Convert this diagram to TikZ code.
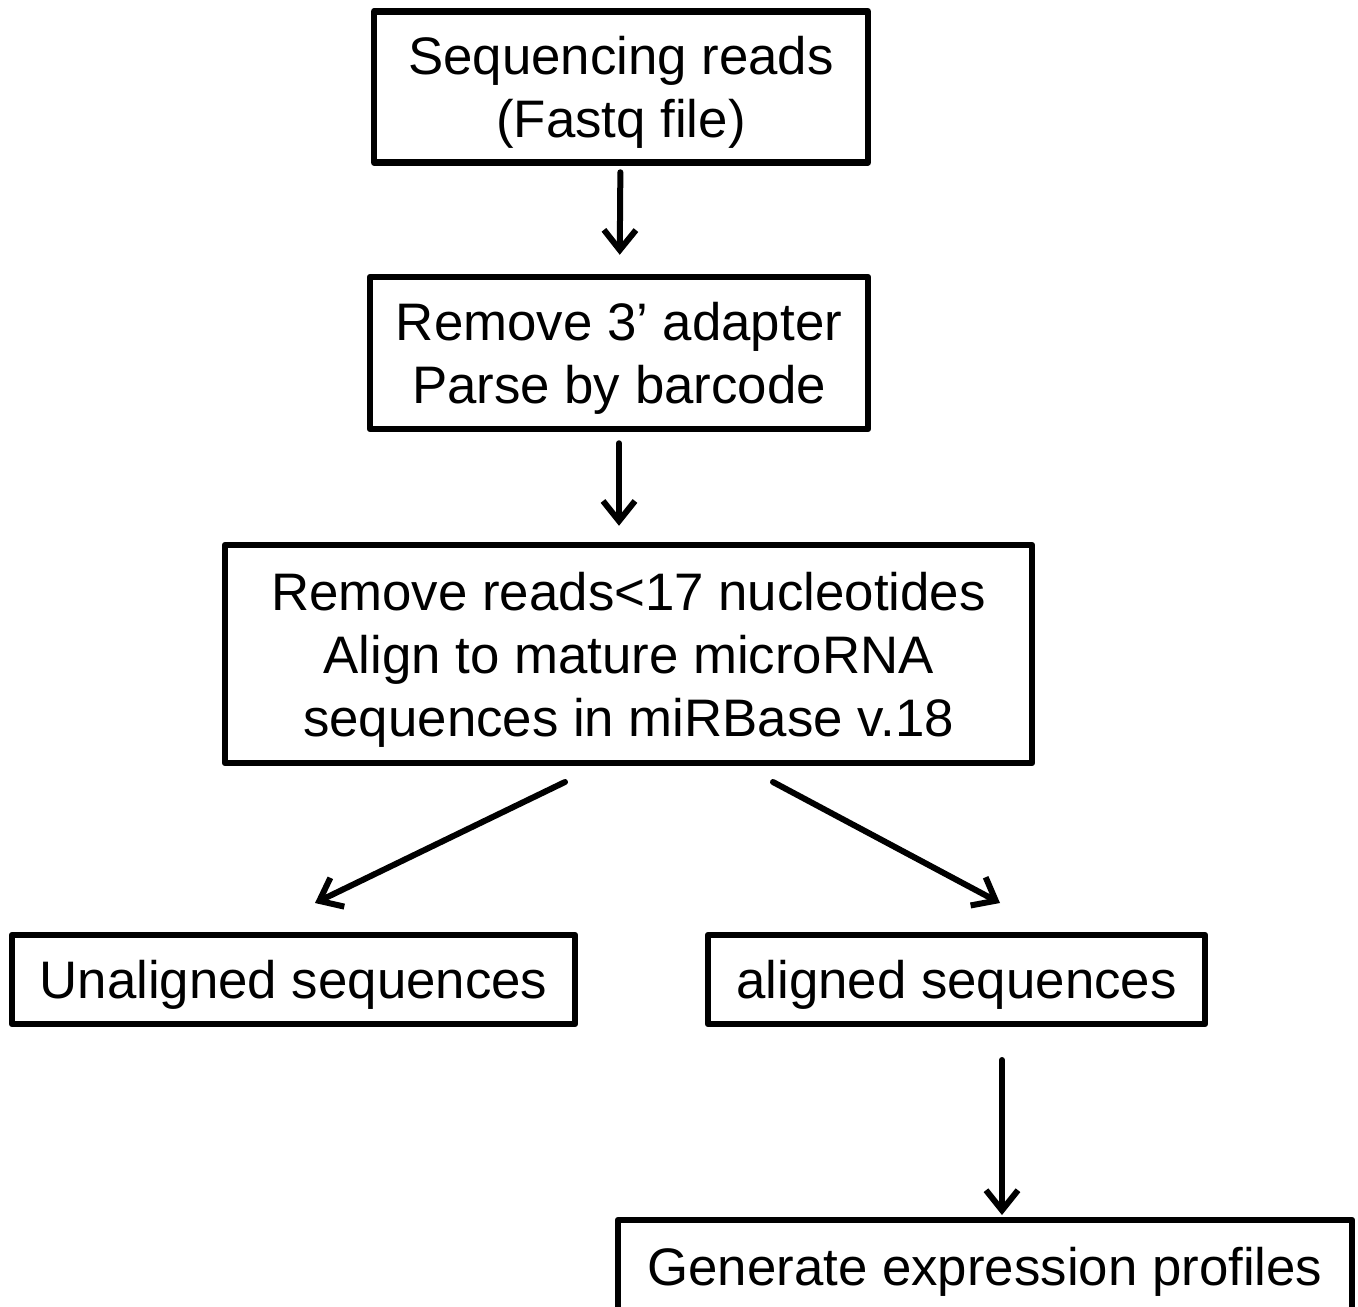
\documentclass[tikz,border=0pt]{standalone}
\usepackage{fontspec}
\setmainfont{Liberation Sans}
\usetikzlibrary{arrows.meta}
\newcommand{\tstrut}{\rule{0pt}{0.93em}}
\begin{document}
\begin{tikzpicture}[x=1pt,y=-1pt,
  box/.style={draw, line width=6.5pt, line join=round, inner sep=0pt, align=center,
    font=\fontsize{52.8}{63}\selectfont},
  arr/.style={line width=6pt, line cap=round, -{Straight Barb[length=20pt,width=32pt]}}]
\useasboundingbox (0,0) rectangle (1358,1307);
\clip (0,0) rectangle (1358,1307);
\fill[white] (0,0) rectangle (1358,1307);
\node[box, minimum width=494pt, minimum height=151pt] (b1) at (621,87) {\tstrut Sequencing reads\\(Fastq file)};
\node[box, minimum width=498pt, minimum height=152pt] (b2) at (619,353) {\tstrut Remove 3’ adapter\\Parse by barcode};
\node[box, minimum width=807pt, minimum height=218pt] (b3) at (628.5,654) {\tstrut Remove reads<17 nucleotides\\Align to mature microRNA\\sequences in miRBase v.18};
\node[box, minimum width=563pt, minimum height=89pt] (un) at (293.5,979.5) {\tstrut Unaligned sequences};
\node[box, minimum width=497pt, minimum height=89pt] (al) at (956.5,979.5) {\tstrut aligned sequences};
\node[box, minimum width=734pt, minimum height=103pt] (gen) at (985,1271.5) {Generate expression profiles};
\draw[arr, shorten <=6.5pt, shorten >=19pt] (b1) -- (b2);
\draw[arr, shorten <=11pt, shorten >=16pt] (b2.south) -- (b2.south |- b3.north);
\coordinate (a3s) at (565,782);
\coordinate (a3e) at (315,903);
\coordinate (a4s) at (773,782);
\coordinate (a4e) at (1000,903);
\coordinate (a5s) at (1002,1060);
\coordinate (a5e) at (1002,1215);
\draw[arr] (a3s) -- (a3e);
\draw[arr] (a4s) -- (a4e);
\draw[arr] (a5s) -- (a5e);
\end{tikzpicture}
\end{document}
